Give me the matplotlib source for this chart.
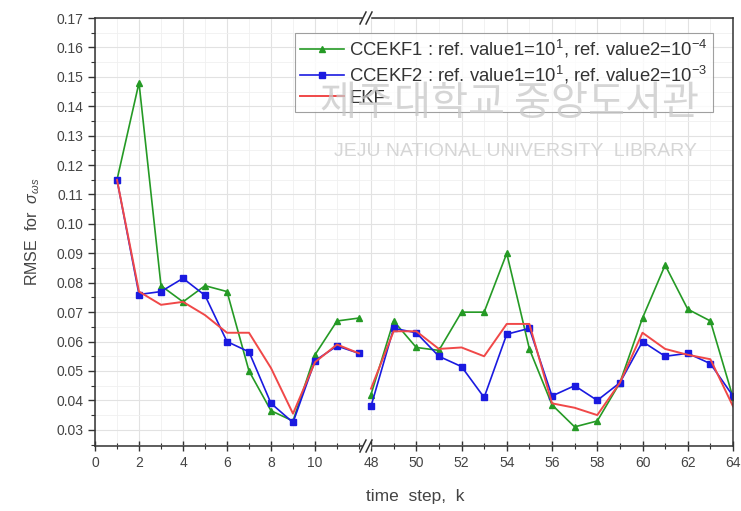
import matplotlib
matplotlib.use("Agg")
import matplotlib.pyplot as plt
from matplotlib.ticker import MultipleLocator, FixedLocator, FormatStrFormatter
from matplotlib.lines import Line2D
from matplotlib.patches import Rectangle

plt.rcParams['font.family'] = ['Liberation Sans', 'DejaVu Sans']
plt.rcParams['mathtext.fontset'] = 'custom'
plt.rcParams['mathtext.rm'] = 'Liberation Sans'
plt.rcParams['mathtext.it'] = 'Liberation Sans:italic'

# time steps on either side of the axis break
steps_early = [1, 2, 3, 4, 5, 6, 7, 8, 9, 10, 11, 12]
steps_late = [48, 49, 50, 51, 52, 53, 54, 55, 56, 57, 58, 59, 60, 61, 62, 63, 64]

ccekf1_early = [0.115, 0.148, 0.079, 0.0735, 0.079, 0.077, 0.050, 0.0365, 0.033, 0.0555, 0.067, 0.068]
ccekf2_early = [0.115, 0.076, 0.077, 0.0815, 0.0757, 0.060, 0.0565, 0.039, 0.0325, 0.0535, 0.0585, 0.056]
ekf_early = [0.115, 0.077, 0.0725, 0.0735, 0.069, 0.063, 0.063, 0.051, 0.0355, 0.053, 0.059, 0.056]

ccekf1_late = [0.042, 0.067, 0.058, 0.057, 0.070, 0.070, 0.090, 0.0575, 0.0385, 0.031, 0.033,
               0.046, 0.068, 0.086, 0.071, 0.067, 0.041]
ccekf2_late = [0.038, 0.0645, 0.063, 0.055, 0.0515, 0.041, 0.0625, 0.0645, 0.0415, 0.045, 0.040,
               0.046, 0.060, 0.055, 0.056, 0.0525, 0.0415]
ekf_late = [0.044, 0.0635, 0.0635, 0.0575, 0.058, 0.055, 0.066, 0.066, 0.039, 0.0375, 0.035,
            0.046, 0.063, 0.0575, 0.0555, 0.054, 0.038]

ticks_early = [0, 2, 4, 6, 8, 10]
ticks_late = [48, 50, 52, 54, 56, 58, 60, 62, 64]

labels = [r"CCEKF1 : ref. value1=10$^{1}$, ref. value2=10$^{-4}$",
          r"CCEKF2 : ref. value1=10$^{1}$, ref. value2=10$^{-3}$",
          "EKF"]

GREEN = "#259a25"
BLUE = "#1a1ae0"
RED = "#f04848"
INK = "#333333"

W, H = 741, 511
fig = plt.figure(figsize=(W / 100, H / 100), dpi=100)

x0, xb, x1 = 95, 366, 733
ytop, ybot = 18, 446
fx = lambda p: p / W
fy = lambda p: 1 - p / H

ax_l = fig.add_axes([fx(x0), fy(ybot), fx(xb - x0), fy(ytop) - fy(ybot)])
ax_r = fig.add_axes([fx(xb), fy(ybot), fx(x1 - xb), fy(ytop) - fy(ybot)], sharey=ax_l)

ax_l.set_xlim(0, (xb - x0) / 22.0)
ax_r.set_xlim(48 - (371 - xb) / 22.6, 64)
ax_l.set_ylim(0.0245, 0.17)

series = [
    (ccekf1_early, ccekf1_late, dict(color=GREEN, marker='^', ms=5, lw=1.2)),
    (ccekf2_early, ccekf2_late, dict(color=BLUE, marker='s', ms=4.2, lw=1.2)),
    (ekf_early, ekf_late, dict(color=RED, lw=1.4)),
]
handles = []
for early, late, style in series:
    h, = ax_l.plot(steps_early, early, **style)
    ax_r.plot(steps_late, late, **style)
    handles.append(h)

ax_l.xaxis.set_major_locator(FixedLocator(ticks_early))
ax_l.xaxis.set_minor_locator(FixedLocator([t + 1 for t in ticks_early] + [12]))
ax_r.xaxis.set_major_locator(FixedLocator(ticks_late))
ax_r.xaxis.set_minor_locator(FixedLocator([t + 1 for t in ticks_late[:-1]]))

for ax in (ax_l, ax_r):
    ax.yaxis.set_major_locator(MultipleLocator(0.01))
    ax.yaxis.set_minor_locator(MultipleLocator(0.005))
    ax.grid(True, which='major', color='#e2e2e2', lw=0.8)
    ax.grid(True, which='minor', color='#f0f0f0', lw=0.6)
    ax.set_axisbelow(True)
    ax.tick_params(axis='x', which='major', direction='inout', length=7, width=1,
                   labelsize=10, colors=INK, labelcolor='#444444', pad=4)
    ax.tick_params(axis='x', which='minor', direction='inout', length=4, width=0.8,
                   colors=INK)
    for s in ax.spines.values():
        s.set_color(INK)
        s.set_linewidth(1.1)

ax_l.spines['right'].set_visible(False)
ax_r.spines['left'].set_visible(False)
ax_r.tick_params(axis='y', which='both', left=False, labelleft=False)
ax_l.tick_params(axis='y', which='major', direction='out', length=5, width=1,
                 labelsize=10, colors=INK, labelcolor='#444444')
ax_l.tick_params(axis='y', which='minor', direction='out', length=3, width=0.8,
                 colors=INK)
ax_l.yaxis.set_major_formatter(FormatStrFormatter('%.2f'))

ax_l.set_ylabel(r"RMSE  for  $\sigma_{\omega s}$", fontsize=11.5, color='#444444', labelpad=10)
fig.text(fx(415), fy(496), "time  step,  k", ha='center', va='center',
         fontsize=12.5, color='#444444')

# break markers on the top and bottom spines
for yb in (ytop, ybot):
    fig.patches.append(Rectangle((fx(xb - 3), fy(yb) - 0.004), fx(7), 0.008,
                                 transform=fig.transFigure, color='white', zorder=5))
    for dx in (-3, 3):
        fig.lines.append(Line2D([fx(xb + dx - 3), fx(xb + dx + 3)],
                                [fy(yb + 6), fy(yb - 6)],
                                transform=fig.transFigure, color=INK,
                                lw=1.1, zorder=6))

leg = fig.legend(handles, labels, loc='upper left',
                 bbox_to_anchor=(fx(295), fy(33)), fontsize=13.3,
                 frameon=True, fancybox=False, edgecolor='#888888',
                 handlelength=2.4, handletextpad=0.3, borderpad=0.25,
                 labelspacing=0.22, borderaxespad=0)
leg.get_frame().set_linewidth(0.8)
for t in leg.get_texts():
    t.set_color(INK)

# library watermark
fig.text(fx(510), fy(104), "제주대학교 중앙도서관", ha='center', va='center',
         fontsize=29, color='#c8c8c8', alpha=0.75,
         family=['Noto Sans CJK KR', 'DejaVu Sans'], zorder=10)
fig.text(fx(515), fy(151), "JEJU NATIONAL UNIVERSITY  LIBRARY", ha='center', va='center',
         fontsize=14, color='#d2d2d2', alpha=0.9, zorder=10)

fig.savefig("out.png", dpi=100)
